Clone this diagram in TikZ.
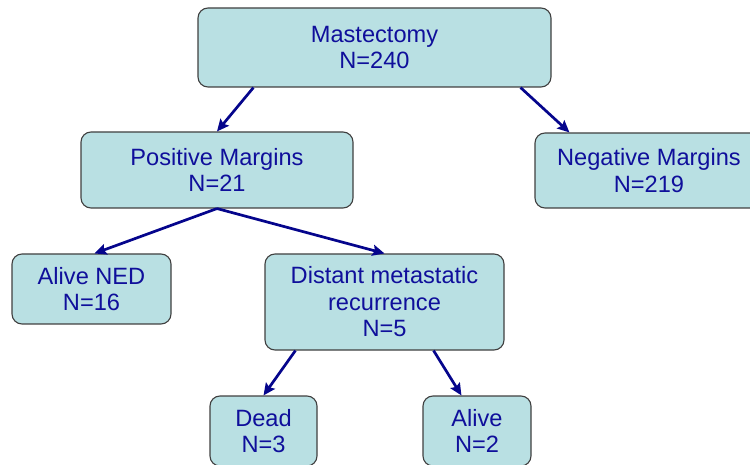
\documentclass[tikz,border=0pt]{standalone}
\usepackage{fontspec}
\setmainfont{Liberation Sans}
\usepackage{xcolor}
\usetikzlibrary{arrows.meta}
\definecolor{boxfill}{RGB}{185,224,227}
\definecolor{boxtext}{RGB}{15,15,155}
\definecolor{arrowblue}{RGB}{5,5,140}
\begin{document}
\begin{tikzpicture}[x=1pt,y=1pt,
    box/.style={draw=black!75, line width=1.1pt, fill=boxfill, rounded corners=10pt,
        text=boxtext, align=center, inner sep=0pt,
        font=\fontsize{23.6}{26.5}\selectfont},
    arr/.style={draw=arrowblue, line width=2.7pt, -{Stealth[length=12pt,width=11pt,inset=2pt]}}]
        \useasboundingbox (0,0) rectangle (750,464);
        \node[box, minimum width=353, minimum height=79] (mast) at (374.5,416.5) {Mastectomy\\N=240};
        \node[box, minimum width=272, minimum height=76] (pos) at (217,294) {Positive Margins\\N=21};
        \node[box, minimum width=228, minimum height=75] (neg) at (649,293.5) {Negative Margins\\N=219};
        \node[box, minimum width=159, minimum height=70] (ned) at (91.5,175) {Alive NED\\N=16};
        \node[box, minimum width=239, minimum height=96] (dist) at (384.5,162) {Distant metastatic\\recurrence\\N=5};
        \node[box, minimum width=107, minimum height=70] (dead) at (263.5,33) {Dead\\N=3};
        \node[box, minimum width=108, minimum height=70] (alive) at (477,33) {Alive\\N=2};
        \draw[arr] ([xshift=56]mast.south west) -- (pos.north);
        \draw[arr] ([xshift=-31]mast.south east) -- ([xshift=35]neg.north west);
        \draw[arr] (pos.south) -- ([xshift=83]ned.north west);
        \draw[arr] (pos.south) -- (dist.north);
        \draw[arr] ([xshift=31]dist.south west) -- (dead.north);
        \draw[arr] ([xshift=-71]dist.south east) -- ([xshift=39]alive.north west);
    \end{tikzpicture}
\end{document}
